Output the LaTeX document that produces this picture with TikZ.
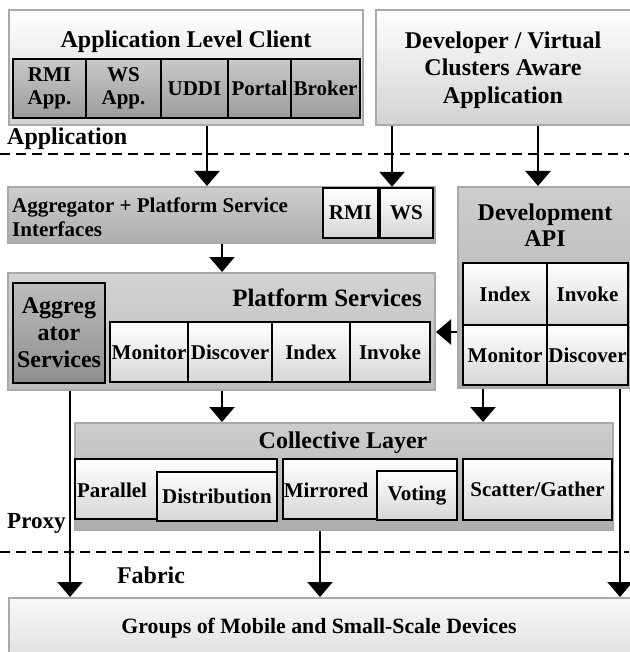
\documentclass[tikz,border=0pt]{standalone}
\usepackage{fontspec}
\setmainfont{Liberation Serif}
\usetikzlibrary{arrows.meta,fit}
\definecolor{bordergray}{HTML}{A9A9A9}
\definecolor{lboxbot}{HTML}{D2D2D2}
\definecolor{gtop}{HTML}{CDCDCD}
\definecolor{gbot}{HTML}{ADADAD}
\definecolor{wbot}{HTML}{D6D6D6}
\definecolor{ctop}{HTML}{C8C8C8}
\definecolor{cbot}{HTML}{9C9C9C}
\definecolor{dtop}{HTML}{BDBDBD}
\definecolor{dbot}{HTML}{8E8E8E}
\newcommand\szcell{\bfseries\fontsize{21}{23}\selectfont}
\newcommand\szbig{\bfseries\fontsize{24}{27.5}\selectfont}
\newcommand\szgroups{\bfseries\fontsize{21.8}{24}\selectfont}
\begin{document}
\begin{tikzpicture}[x=1pt,y=-1pt,
  lightbox/.style={draw=bordergray, line width=2pt, top color=white, bottom color=lboxbot, inner sep=0pt},
  graybox/.style={draw=bordergray, line width=2pt, top color=gtop, bottom color=gbot, inner sep=0pt},
  whitecell/.style={draw=black, line width=2.3pt, top color=white, bottom color=wbot, inner sep=0pt},
  graycell/.style={draw=black, line width=2.3pt, top color=ctop, bottom color=cbot, inner sep=0pt},
  darkcell/.style={draw=black, line width=2.3pt, top color=dtop, bottom color=dbot, inner sep=0pt},
  ctext/.style={inner sep=0pt, font=\szcell, align=center},
  lbl/.style={inner sep=0pt, font=\szbig, align=center},
  arr/.style={line width=2.3pt, -{Triangle[width=25pt,length=15pt]}},
  sepline/.style={line width=2pt, dash pattern=on 10pt off 6pt}
]
\useasboundingbox (0,0) rectangle (629,652);

% ---------- Application level ----------
\node[lightbox, fit={(9,10)(363,125)}] (alc) {};
\node[lbl] (alct) at (186,42) {Application Level Client};
\node[graycell, fit={(13,59)(86,118)}, label={[ctext]center:RMI\\App.}] (rmiapp) {};
\node[graycell, fit={(86,59)(161,118)}, label={[ctext]center:WS\\App.}] (wsapp) {};
\node[graycell, fit={(161,59)(228,118)}, label={[ctext]center:UDDI}] (uddi) {};
\node[graycell, fit={(228,59)(291,118)}, label={[ctext]center:Portal}] (portal) {};
\node[graycell, fit={(291,59)(360,118)}, label={[ctext]center:Broker}] (broker) {};

\node[lightbox, fit={(376,10)(631,125)}] (dev) {};
\node[lbl] (devt) at (503,70) {Developer / Virtual\\Clusters Aware\\Application};

\node[lbl, anchor=west] (applbl) at (7,139) {Application};
\coordinate (sepA1) at (0,154);
\coordinate (sepA2) at (629,154);
\draw[sepline] (sepA1) -- (sepA2);

% ---------- Aggregator + Platform Service Interfaces ----------
\node[graybox, fit={(8,187)(435,243)}] (agg) {};
\node[inner sep=0pt, anchor=west, align=left, font=\bfseries\fontsize{21}{24}\selectfont] (aggt) at (12,217) {Aggregator + Platform Service\\Interfaces};
\node[whitecell, fit={(323,188)(378,238)}, label={[ctext]center:RMI}] (rmi) {};
\node[whitecell, fit={(380,188)(433,238)}, label={[ctext]center:WS}] (ws) {};

% ---------- Development API ----------
\node[graybox, fit={(458,187)(631,388)}] (dapi) {};
\node[lbl, font=\bfseries\fontsize{24}{26}\selectfont] (dapit) at (545,225) {Development\\API};
\node[whitecell, fit={(463,263)(547,325)}, label={[ctext]center:Index}] (dindex) {};
\node[whitecell, fit={(547,263)(628,325)}, label={[ctext]center:Invoke}] (dinvoke) {};
\node[whitecell, fit={(463,325)(547,385)}, label={[ctext]center:Monitor}] (dmonitor) {};
\node[whitecell, fit={(547,325)(628,385)}, label={[ctext]center:Discover}] (ddiscover) {};

% ---------- Platform Services ----------
\node[graybox, top color=gtop!90!white, bottom color=gbot!80!white, fit={(8,273)(435,390)}] (plat) {};
\node[lbl, font=\bfseries\fontsize{25}{28}\selectfont] (platt) at (327,298) {Platform Services};
\node[darkcell, fit={(13,283)(105,383)}, label={[lbl, font=\bfseries\fontsize{24}{27}\selectfont]center:Aggreg\\ator\\Services}] (aggsvc) {};
\node[whitecell, fit={(110,322)(188,382)}, label={[ctext]center:Monitor}] (monitor) {};
\node[whitecell, fit={(188,322)(272,382)}, label={[ctext]center:Discover}] (discover) {};
\node[whitecell, fit={(272,322)(350,382)}, label={[ctext]center:Index}] (index) {};
\node[whitecell, fit={(350,322)(430,382)}, label={[ctext]center:Invoke}] (invoke) {};

% ---------- Collective Layer ----------
\node[graybox, fit={(75,423)(613,530)}] (coll) {};
\node[lbl] (collt) at (343,443) {Collective Layer};
\node[whitecell, fit={(75,459)(277,519)}] (parallel) {};
\node[ctext] (parallelt) at (112,490) {Parallel};
\node[whitecell, fit={(157,472)(277,521)}, label={[ctext]center:Distribution}] (distrib) {};
\node[whitecell, fit={(283,459)(457,519)}] (mirrored) {};
\node[ctext] (mirroredt) at (326,490) {Mirrored};
\node[whitecell, fit={(377,471)(457,520)}, label={[ctext]center:Voting}] (voting) {};
\node[whitecell, fit={(463,459)(612,520)}, label={[ctext]center:Scatter/Gather}] (scatter) {};

\node[lbl, anchor=west, font=\bfseries\fontsize{23}{26}\selectfont] (proxylbl) at (7,523) {Proxy};
\coordinate (sepB1) at (0,552);
\coordinate (sepB2) at (629,552);
\draw[sepline] (sepB1) -- (sepB2);
\node[lbl] (fabriclbl) at (151,575) {Fabric};

% ---------- Groups ----------
\node[lightbox, top color=white!85!lboxbot, bottom color=lboxbot!70!white, fit={(9,598)(633,658)}] (groups) {};
\node[inner sep=0pt, font=\szgroups] (groupst) at (319,628) {Groups of Mobile and Small-Scale Devices};

% ---------- guides for connector x positions ----------
\coordinate (gx207) at (207,0);
\coordinate (gx392) at (392,0);
\coordinate (gx538) at (538,0);
\coordinate (gx222) at (222,0);
\coordinate (gx483) at (483,0);
\coordinate (gx70) at (70,0);
\coordinate (gx620) at (620,0);
\coordinate (gx320) at (320,0);
\coordinate (gy332) at (0,332);

% ---------- connectors ----------
\draw[arr] (alc.south -| gx207) -- (agg.north -| gx207);
\draw[arr] (dev.south -| gx392) -- (ws.north -| gx392);
\draw[arr] (dev.south -| gx538) -- (dapi.north -| gx538);
\draw[arr] (agg.south -| gx222) -- (plat.north -| gx222);
\draw[arr] (dapi.west |- gy332) -- (plat.east |- gy332);
\draw[arr] (plat.south -| gx222) -- (coll.north -| gx222);
\draw[arr] (dapi.south -| gx483) -- (coll.north -| gx483);
\draw[arr] (plat.south -| gx70) -- (groups.north -| gx70);
\draw[arr] (dapi.south -| gx620) -- (groups.north -| gx620);
\draw[arr] (coll.south -| gx320) -- (groups.north -| gx320);
\end{tikzpicture}
\end{document}
